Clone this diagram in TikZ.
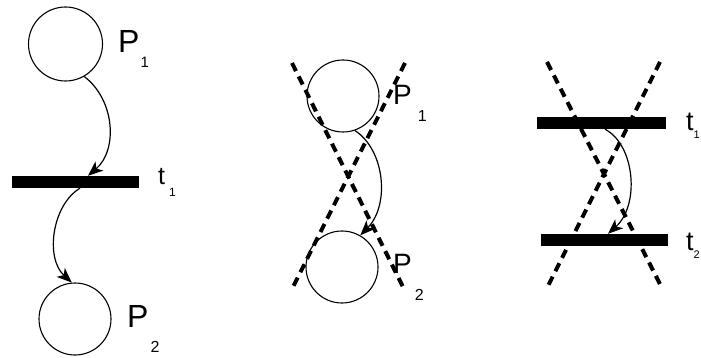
\documentclass[tikz,border=0pt]{standalone}
\usepackage{fontspec}
\setmainfont{Liberation Sans}
\usetikzlibrary{arrows.meta}
\begin{document}
\begin{tikzpicture}[x=1pt,y=-1pt,
  place/.style={circle,draw,line width=1.1pt,minimum size=#1,inner sep=0pt},
  bar/.style={rectangle,fill=black,inner sep=0pt,minimum height=12pt},
  arc/.style={line width=1.2pt,-{Stealth[length=15pt,width=12pt,inset=4pt]}},
  cut/.style={line width=4pt,dash pattern=on 9pt off 6pt},
  lbl/.style={anchor=base west,inner sep=0pt,text=black}]
\useasboundingbox (0,0) rectangle (701,358);
% left net
\node[place=74pt] (p1) at (65.5,44) {};
\node[bar,minimum width=127pt] (t1) at (75.5,182) {};
\node[place=72pt] (p2) at (75,319) {};
\draw[arc] (p1.-60) .. controls (115,100) and (118,150) .. ([xshift=12.5pt]t1.north);
\draw[arc] ([xshift=4.5pt]t1.south) .. controls (52,205) and (45,258) .. (p2.95);
\node[lbl,font=\fontsize{32}{32}\selectfont] (p1l) at (118,53) {P\hspace{1pt}\raisebox{-15pt}{\fontsize{15}{15}\selectfont 1}};
\node[lbl,font=\fontsize{25}{25}\selectfont] (t1l) at (158,185) {t\hspace{4pt}\raisebox{-12pt}{\fontsize{12}{12}\selectfont 1}};
\node[lbl,font=\fontsize{32}{32}\selectfont] (p2l) at (127,327) {P\hspace{2pt}\raisebox{-25pt}{\fontsize{16}{16}\selectfont 2}};
% middle
\node[place=72pt] (mp1) at (343,96) {};
\node[place=72pt] (mp2) at (342,267) {};
\coordinate (ma) at (292,63);
\coordinate (mb) at (403,287);
\coordinate (mc) at (405,63);
\coordinate (md) at (293,287);
\draw[arc] (mp1.-71) .. controls (385,150) and (390,205) .. (mp2.60);
\draw[cut] (ma) -- (mb);
\draw[cut] (mc) -- (md);
\node[lbl,font=\fontsize{28}{28}\selectfont] (mp1l) at (393,105) {P\hspace{6pt}\raisebox{-17pt}{\fontsize{16}{16}\selectfont 1}};
\node[lbl,font=\fontsize{28}{28}\selectfont] (mp2l) at (393,273) {P\hspace{3pt}\raisebox{-27pt}{\fontsize{16}{16}\selectfont 2}};
% right
\node[bar,minimum width=129pt] (rt1) at (601.5,123) {};
\node[bar,minimum width=127pt] (rt2) at (604.5,240) {};
\coordinate (ra) at (547,62);
\coordinate (rb) at (662,288);
\coordinate (rc) at (660,62);
\coordinate (rd) at (547,288);
\draw[arc] ([xshift=3.5pt]rt1.south) .. controls (635,145) and (640,205) .. ([xshift=3.5pt]rt2.north);
\draw[cut] (ra) -- (rb);
\draw[cut] (rc) -- (rd);
\node[lbl,font=\fontsize{27}{27}\selectfont] (rt1l) at (686,131) {t\raisebox{-8pt}{\fontsize{11}{11}\selectfont 1}};
\node[lbl,font=\fontsize{27}{27}\selectfont] (rt2l) at (686,250) {t\raisebox{-8pt}{\fontsize{11}{11}\selectfont 2}};
\end{tikzpicture}
\end{document}
